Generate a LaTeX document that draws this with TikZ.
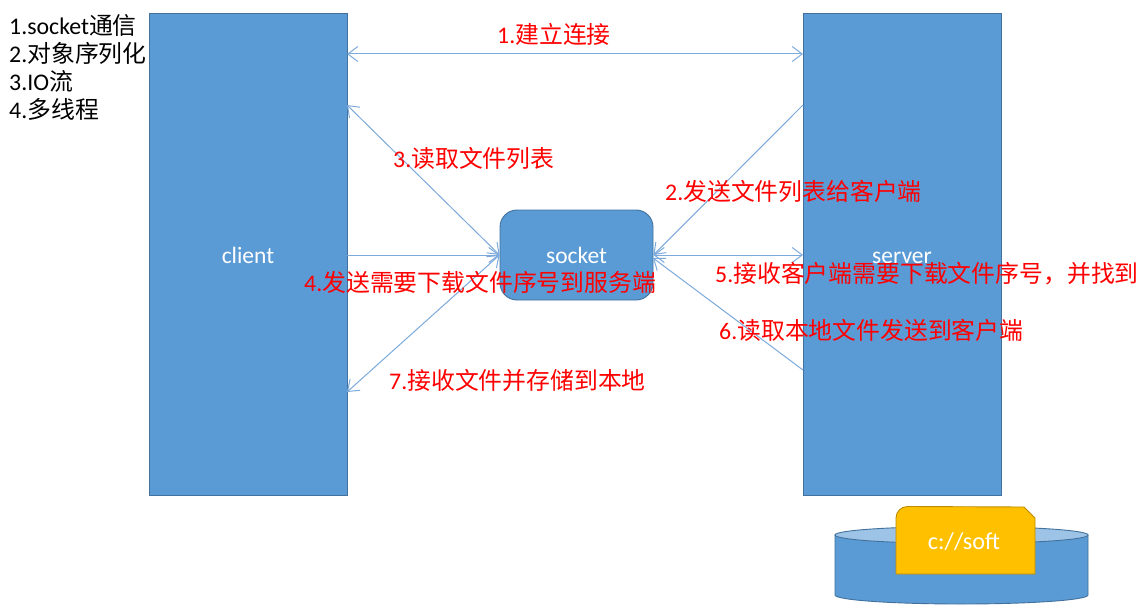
\documentclass[tikz,border=0pt]{standalone}
\usepackage{fontspec}
\setmainfont{Carlito}
\newfontfamily\cjk{Noto Sans CJK SC}
\newcommand{\zh}[1]{{\cjk #1}}
\definecolor{shapeblue}{HTML}{5B9BD5}
\definecolor{edgeblue}{HTML}{41719C}
\definecolor{linkblue}{HTML}{7CAADC}
\definecolor{lightblue}{HTML}{9DC3E6}
\definecolor{folder}{HTML}{FFC000}
\definecolor{folderedge}{HTML}{BC8C00}
\usetikzlibrary{arrows.meta}
\tikzset{
 x=1pt,y=-1pt,
 barb/.tip={Straight Barb[length=10pt,width=15pt]},
 pillar/.style={draw=edgeblue,fill=shapeblue,line width=.9pt,minimum width=198pt,minimum height=482pt,inner sep=0pt,text=white,font=\fontsize{23.5}{26}\selectfont},
 hub/.style={draw=edgeblue,fill=shapeblue,line width=.9pt,rounded corners=17pt,minimum width=153pt,minimum height=90pt,inner sep=0pt,text=white,font=\fontsize{23.5}{26}\selectfont},
 link/.style={draw=linkblue,line width=1pt,barb-barb},
 linkone/.style={draw=linkblue,line width=1pt,-barb},
 step label/.style={anchor=west,inner sep=0pt,text=red,font=\fontsize{23.85}{26}\selectfont},
 topic/.style={anchor=west,inner sep=0pt,text=black,font=\fontsize{23.85}{26}\selectfont},
}
\begin{document}
\begin{tikzpicture}
\useasboundingbox (0,0) rectangle (1148,615);
\fill[white] (0,0) rectangle (1148,615);
\node[pillar] (client) at (248,254) {\raisebox{-9pt}[0pt][0pt]{client}};
\node[pillar] (server) at (902,254) {\raisebox{-9pt}[0pt][0pt]{server}};
\node[hub] (socket) at (576.5,255) {socket};
\coordinate (c1) at (347,54);
\coordinate (c2) at (347,105);
\coordinate (c3) at (347,392);
\coordinate (c4) at (347,255);
\coordinate (s1) at (803,54);
\coordinate (s2) at (803,105);
\coordinate (s3) at (803,370);
\coordinate (s4) at (803,255);
\coordinate (h1) at (653,258);
\draw[link] (c1) -- (s1);
\draw[link] (c2) -- (socket.west);
\draw[linkone] (c4) -- (socket.west);
\draw[link] (c3) -- (socket.west);
\draw[linkone] (s2) -- (socket.east);
\draw[link] (socket.east) -- (s4);
\draw[linkone] (s3) -- (h1);
% disk
\draw[draw=edgeblue,fill=shapeblue,line width=.9pt] (835,535) -- (835,595) arc[start angle=180,end angle=360,x radius=126.5pt,y radius=9pt] -- (1088,535) -- cycle;
\draw[draw=edgeblue,fill=lightblue,line width=.9pt] (961.5,535) ellipse[x radius=126.5pt,y radius=8.5pt];
\draw[draw=folderedge,fill=folder,line width=.9pt] (896,574) -- (896,518) arc[start angle=180,end angle=90,radius=11.5pt] -- (1024,507) -- (1035,518) -- (1035,574) -- cycle;
\node[inner sep=0pt,text=white,font=\fontsize{24.2}{26}\selectfont] (disk) at (964,542) {c://soft};
% labels
\node[step label] (l1) at (497,34) {1.\zh{建立连接}};
\node[step label] (l3) at (393,158) {3.\zh{读取文件列表}};
\node[step label] (l2) at (665,191) {2.\zh{发送文件列表给客户端}};
\node[step label] (l4) at (304,282) {4.\zh{发送需要下载文件序号到服务端}};
\node[step label] (l5) at (715,274) {5.\zh{接收客户端需要下载文件序号，并找到}};
\node[step label] (l6) at (719,330) {6.\zh{读取本地文件发送到客户端}};
\node[step label] (l7) at (389,380) {7.\zh{接收文件并存储到本地}};
\node[topic] (t1) at (9,25) {1.socket\zh{通信}};
\node[topic] (t2) at (9,53) {2.\zh{对象序列化}};
\node[topic] (t3) at (9,81) {3.IO\zh{流}};
\node[topic] (t4) at (9,109) {4.\zh{多线程}};
\end{tikzpicture}
\end{document}
